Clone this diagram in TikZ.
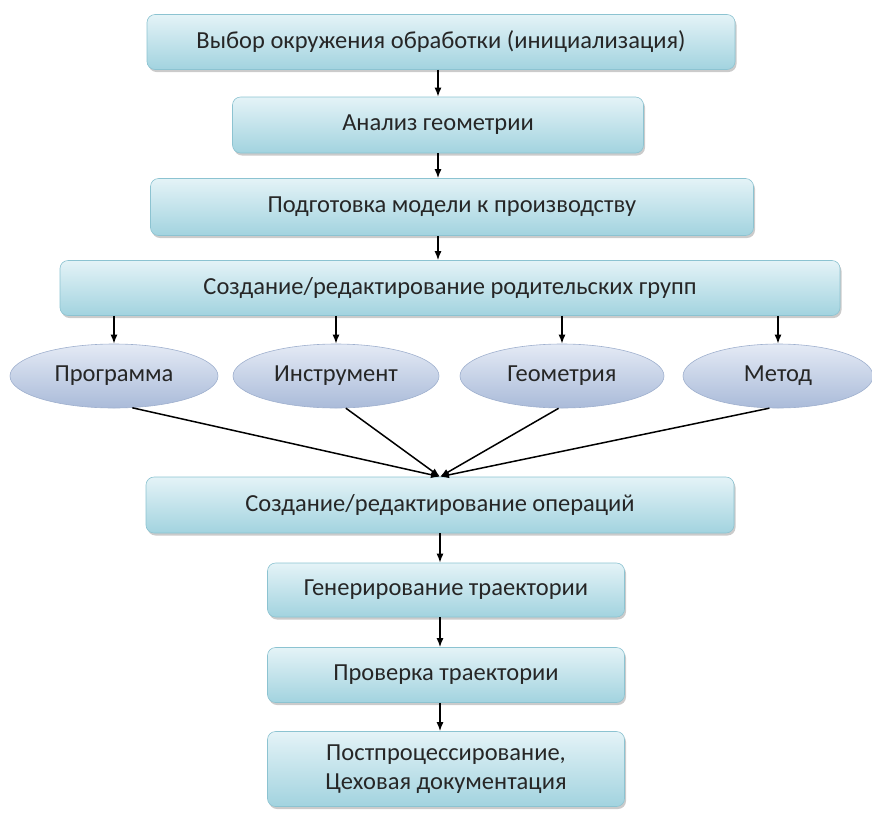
\documentclass[tikz,border=0pt]{standalone}
\usepackage{fontspec}
\setmainfont{Carlito}
\usetikzlibrary{arrows.meta, positioning, shapes.geometric, shadows}

\definecolor{boxtop}{HTML}{E4F3F7}
\definecolor{boxbot}{HTML}{A2D3DF}
\definecolor{boxrim}{HTML}{8CC3D1}
\definecolor{elltop}{HTML}{E4EAF5}
\definecolor{ellbot}{HTML}{AABBD9}
\definecolor{ellrim}{HTML}{9FB0CE}
\definecolor{txtgray}{HTML}{262626}

\tikzset{
  stage/.style={rectangle, rounded corners=8pt, top color=boxtop, bottom color=boxbot,
    draw=boxrim, line width=0.6pt, text=txtgray, align=center,
    font=\fontsize{24.5}{29}\selectfont,
    drop shadow={shadow xshift=1.5pt, shadow yshift=-2.5pt, fill=black!45, opacity=0.45}},
  group/.style={ellipse, top color=elltop, bottom color=ellbot, draw=ellrim,
    line width=0.6pt, text=txtgray, inner sep=0pt,
    minimum height=64pt, font=\fontsize{24.5}{29}\selectfont},
  flow/.style={-{Latex[length=9pt, width=7pt]}, line width=1.5pt, black}
}

\begin{document}
\begin{tikzpicture}[x=1pt, y=-1pt]
      \useasboundingbox (0,0) rectangle (872,812);

      % Main chain (top part)
      \node[stage, minimum width=588pt, minimum height=55pt] (init) at (441,42)
        {Выбор окружения обработки (инициализация)};
      \node[stage, minimum width=411pt, minimum height=56pt] (geom) at (438,125)
        {Анализ геометрии};
      \node[stage, minimum width=603pt, minimum height=57pt] (prep) at (452,207)
        {Подготовка модели к производству};
      \node[stage, minimum width=780pt, minimum height=55pt] (parents) at (450,288)
        {Создание/редактирование родительских групп};

      % Parent groups
      \node[group, minimum width=208pt] (prog) at (114,376) {Программа};
      \node[group, minimum width=206pt] (tool) at (336,376) {Инструмент};
      \node[group, minimum width=204pt] (shape) at (562,376) {Геометрия};
      \node[group, minimum width=190pt] (method) at (778,376) {Метод};

      % Main chain (bottom part)
      \node[stage, minimum width=588pt, minimum height=56pt] (ops) at (440,505)
        {Создание/редактирование операций};
      \node[stage, minimum width=357pt, minimum height=54pt] (gen) at (446,590)
        {Генерирование траектории};
      \node[stage, minimum width=357pt, minimum height=55pt] (check) at (446,675)
        {Проверка траектории};
      \node[stage, minimum width=357pt, minimum height=75pt] (post) at (446,769)
        {Постпроцессирование,\\Цеховая документация};

      % Arrows between steps
      \draw[flow] (init.south -| geom) -- (geom);
      \draw[flow] (geom) -- (geom |- prep.north);
      \draw[flow] (prep.south -| geom) -- (geom |- parents.north);
      \foreach \g in {prog, tool, shape, method}
        \draw[flow] (parents.south -| \g) -- (\g);

      % Groups merge into operations
      \draw[flow] (prog.300) -- (ops.north);
      \draw[flow] (tool.287) -- (ops.north);
      \draw[flow] (shape.264) -- (ops.north);
      \draw[flow] (method.255) -- (ops.north);

      \draw[flow] (ops) -- (ops |- gen.north);
      \draw[flow] (gen.south -| ops) -- (ops |- check.north);
      \draw[flow] (check.south -| ops) -- (ops |- post.north);
    \end{tikzpicture}
\end{document}
